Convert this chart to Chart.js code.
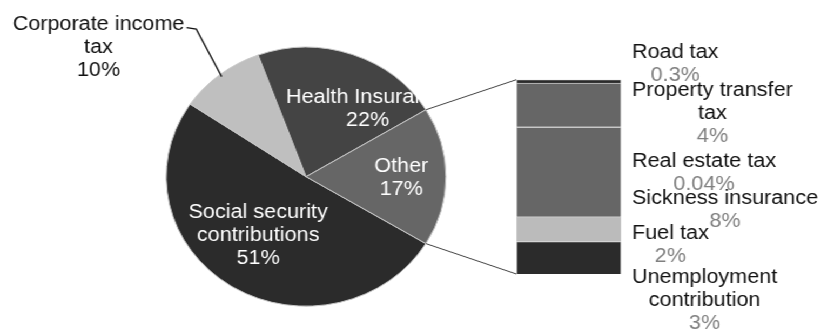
<!DOCTYPE html>
<html lang="en">
<head>
<meta charset="UTF-8" />
<title>Tax revenue structure</title>
<script src="https://cdn.jsdelivr.net/npm/chart.js"></script>
<style>
  html, body { margin: 0; padding: 0; background: #fff; overflow: hidden; }
  /* the original picture is a bit wider than tall, so the whole stage is stretched */
  #stage { position: relative; width: 760px; height: 329px; transform: scaleX(1.0803); transform-origin: 0 0; }
  #stage canvas { position: absolute; left: 0; top: 0; }
</style>
</head>
<body>
<div id="stage">
  <canvas id="pieChart" width="760" height="329"></canvas>
  <canvas id="barChart" width="760" height="329"></canvas>
</div>
<script>
// main pie, % of total revenue, clockwise after the "Other" slice
const pieLabels = ["Social security contributions", "Corporate income tax", "Health Insurance", "Other"];
const pieMain = [51, 10, 22];
const pieColors = ["#2b2b2b", "#bfbfbf", "#444444", "#666666"];

// what "Other" is made of, bottom of the bar first
const otherLabels = ["Unemployment contribution", "Fuel tax", "Sickness insurance", "Real estate tax", "Property transfer tax", "Road tax"];
const otherValues = [2.9, 2.2, 8.0, 0.04, 3.9, 0.3];
const otherColors = ["#2b2b2b", "#bbbbbb", "#666666", "#666666", "#666666", "#2b2b2b"];

const otherTotal = otherValues.reduce((a, b) => a + b, 0);
const pieValues = pieMain.concat([otherTotal]);
const pieTotal = pieValues.reduce((a, b) => a + b, 0);

// label placement tweaks (px)
const pieLabelShift = [[1, -12], [-114, -29], [29, 12], [4, 1]];
const pieLabelOutside = [false, true, false, false];
const barLabelShift = [43, 16, 38, 46, 9, -17];

const FONT = '20px "Liberation Sans", Arial, sans-serif';
const LINE_H = 23;

function wrap(ctx, text, maxW) {
  const words = text.split(" ");
  const lines = [];
  let cur = "";
  for (const w of words) {
    const t = cur ? cur + " " + w : w;
    if (cur && ctx.measureText(t).width > maxW) {
      lines.push(cur);
      cur = w;
    } else {
      cur = t;
    }
  }
  lines.push(cur);
  return lines;
}

function fmtPct(v) {
  return (v < 1 ? String(v) : Math.round(v)) + "%";
}

const pieLabelPlugin = {
  id: "pieLabels",
  afterDatasetsDraw(chart) {
    const ctx = chart.ctx;
    const arcs = chart.getDatasetMeta(0).data;
    const other = arcs[arcs.length - 1];
    // labels get cut where the upper connector leaves the pie
    const cutX = other.x + other.outerRadius * Math.cos(other.startAngle);
    const cutY = other.y + other.outerRadius * Math.sin(other.startAngle);
    ctx.save();
    ctx.font = FONT;
    ctx.textAlign = "center";
    ctx.textBaseline = "middle";
    arcs.forEach((arc, i) => {
      const mid = (arc.startAngle + arc.endAngle) / 2;
      const pct = Math.round(pieValues[i] / pieTotal * 100) + "%";
      if (pieLabelOutside[i]) {
        const ex = arc.x + arc.outerRadius * 0.98 * Math.cos(mid);
        const ey = arc.y + arc.outerRadius * 0.98 * Math.sin(mid);
        const lines = wrap(ctx, pieLabels[i], 178).concat([pct]);
        const cx = ex + pieLabelShift[i][0];
        const cy = ey + pieLabelShift[i][1];
        const y0 = cy - (lines.length - 1) * LINE_H / 2;
        ctx.fillStyle = "#111";
        lines.forEach((l, k) => ctx.fillText(l, cx, y0 + k * LINE_H));
        const sx = cx + ctx.measureText(lines[0]).width / 2 + 2;
        ctx.strokeStyle = "#111";
        ctx.lineWidth = 1.3;
        ctx.beginPath();
        ctx.moveTo(sx, y0 + 3);
        ctx.lineTo(sx + 9, y0 + 4.5);
        ctx.lineTo(ex, ey);
        ctx.stroke();
        return;
      }
      const lines = wrap(ctx, pieLabels[i], 160).concat([pct]);
      const cx = arc.x + arc.outerRadius * 0.65 * Math.cos(mid) + pieLabelShift[i][0];
      const cy = arc.y + arc.outerRadius * 0.65 * Math.sin(mid) + pieLabelShift[i][1];
      const y0 = cy - (lines.length - 1) * LINE_H / 2;
      ctx.save();
      ctx.beginPath();
      ctx.moveTo(0, 0);
      ctx.lineTo(cutX, 0);
      ctx.lineTo(cutX, cutY);
      ctx.lineTo(chart.width, cutY);
      ctx.lineTo(chart.width, chart.height);
      ctx.lineTo(0, chart.height);
      ctx.closePath();
      ctx.clip();
      ctx.fillStyle = "#ffffff";
      lines.forEach((l, k) => ctx.fillText(l, cx, y0 + k * LINE_H));
      ctx.restore();
    });
    ctx.restore();
  }
};

const pieChart = new Chart(document.getElementById("pieChart"), {
  type: "pie",
  data: {
    labels: pieLabels,
    datasets: [{
      data: pieValues,
      backgroundColor: pieColors,
      borderColor: "#c8c8c8",
      borderWidth: 1
    }]
  },
  options: {
    responsive: false,
    animation: false,
    events: [],
    // "Other" centred on the right, facing the bar
    rotation: 90 + otherTotal / pieTotal * 180,
    layout: { padding: { left: 153.3, top: 46.7, right: 346.7, bottom: 22.3 } },
    plugins: { legend: { display: false }, tooltip: { enabled: false } }
  },
  plugins: [pieLabelPlugin]
});

const barLabelPlugin = {
  id: "barLabels",
  afterDraw(chart) {
    const ctx = chart.ctx;
    const n = chart.data.datasets.length;
    const bottomEl = chart.getDatasetMeta(0).data[0];
    const topEl = chart.getDatasetMeta(n - 1).data[0];
    const left = bottomEl.x - bottomEl.width / 2;
    const right = bottomEl.x + bottomEl.width / 2;

    // connectors from the "Other" slice to the bar
    const arcs = pieChart.getDatasetMeta(0).data;
    const other = arcs[arcs.length - 1];
    ctx.save();
    ctx.strokeStyle = "#444";
    ctx.lineWidth = 1;
    ctx.beginPath();
    ctx.moveTo(other.x + other.outerRadius * Math.cos(other.startAngle), other.y + other.outerRadius * Math.sin(other.startAngle));
    ctx.lineTo(left, topEl.y);
    ctx.moveTo(other.x + other.outerRadius * Math.cos(other.endAngle), other.y + other.outerRadius * Math.sin(other.endAngle));
    ctx.lineTo(left, bottomEl.base);
    ctx.stroke();

    ctx.font = FONT;
    ctx.textAlign = "center";
    ctx.textBaseline = "middle";
    for (let i = 0; i < n; i++) {
      const el = chart.getDatasetMeta(i).data[0];
      const segY = (el.y + el.base) / 2;
      const lines = wrap(ctx, otherLabels[i], 178);
      const pct = fmtPct(otherValues[i]);
      const maxW = Math.max(...lines.concat([pct]).map(l => ctx.measureText(l).width));
      const cx = right + 10 + maxW / 2;
      const total = lines.length + 1;
      const y0 = segY + barLabelShift[i] - (total - 1) * LINE_H / 2;
      ctx.fillStyle = "#111";
      lines.forEach((l, k) => ctx.fillText(l, cx, y0 + k * LINE_H));
      ctx.fillStyle = "#808080";
      ctx.fillText(pct, cx, y0 + lines.length * LINE_H);
    }
    ctx.restore();
  }
};

new Chart(document.getElementById("barChart"), {
  type: "bar",
  data: {
    labels: [""],
    datasets: otherLabels.map((name, i) => ({
      label: name,
      data: [otherValues[i]],
      backgroundColor: otherColors[i],
      borderColor: "#c8c8c8",
      borderWidth: 1,
      barPercentage: 1,
      categoryPercentage: 1
    }))
  },
  options: {
    responsive: false,
    animation: false,
    events: [],
    layout: { padding: { left: 478, top: 79.7, right: 185, bottom: 55 } },
    scales: {
      x: { display: false, stacked: true },
      y: { display: false, stacked: true, min: 0, max: otherTotal }
    },
    plugins: { legend: { display: false }, tooltip: { enabled: false } }
  },
  plugins: [barLabelPlugin]
});
</script>
</body>
</html>
